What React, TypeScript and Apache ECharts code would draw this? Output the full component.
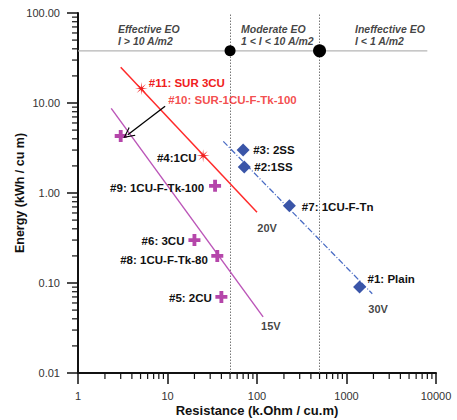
import React, { useEffect, useRef } from "react";
import * as echarts from "echarts";

// ---- data (resistance kOhm/cu.m, energy kWh/cu m) ----
const redNames = ["#11: SUR 3CU", "#4:1CU"];
const redR = [5.1, 25];
const redE = [14.5, 2.6];

const purpleNames = ["#10", "#9: 1CU-F-Tk-100", "#6: 3CU", "#8: 1CU-F-Tk-80", "#5: 2CU"];
const purpleR = [3.0, 34, 20, 36, 40];
const purpleE = [4.3, 1.2, 0.3, 0.2, 0.07];

const blueNames = ["#3: 2SS", "#2:1SS", "#7: 1CU-F-Tn", "#1: Plain"];
const blueR = [70, 72, 230, 1400];
const blueE = [3.0, 1.95, 0.72, 0.09];

// trend lines
const line20R = [3.0, 100];
const line20E = [25, 0.61];
const line15R = [2.35, 117];
const line15E = [8.7, 0.042];
const line30R = [42, 1940];
const line30E = [3.75, 0.076];

// thresholds
const thresholdR = [50, 500];
const thresholdE = 38;
const thresholdLineR = [1, 8000];

// annotations
const annoTexts = ["#10: SUR-1CU-F-Tk-100", "20V", "15V", "30V"];
const annoR = [10.2, 100.7, 111, 1753];
const annoE = [10.7, 0.41, 0.0334, 0.052];

const regionTexts = ["Effective EO\nI > 10 A/m2", "Moderate EO\n1 < I < 10 A/m2", "Ineffective EO\nI < 1 A/m2"];
const regionR = [2.8, 66.3, 1245];
const regionE = [57, 57, 57];

const arrowFrom = [9.4, 9.2];
const arrowTo = [3.6, 4.45];

const xTickLabels = ["1", "10", "100", "1000", "10000"];
const decadesX = [1, 10, 100, 1000];
const decadesY = [0.01, 0.1, 1, 10];

// ---- label placement / colours (separate from data) ----
const RED = "#f02020";
const BLACK = "#111";
const redPlace: any[] = [
  { position: "right", offset: [0, -5], distance: 1, color: RED },
  { position: "left", offset: [0, 2], distance: 0, color: BLACK },
];
const purplePlace: any[] = [
  null,
  { position: "left", offset: [0, 2], distance: 5, color: BLACK },
  { position: "left", offset: [0, 1], distance: 4, color: BLACK },
  { position: "left", offset: [0, 4], distance: 3.5, color: BLACK },
  { position: "left", offset: [0, 1], distance: 3.5, color: BLACK },
];
const bluePlace: any[] = [
  { position: "right", offset: [0, 0], distance: 3.5, color: BLACK },
  { position: "right", offset: [0, 0], distance: 3.5, color: BLACK },
  { position: "right", offset: [0, 1], distance: 6, color: BLACK },
  { position: "right", offset: [0, -8], distance: 1.5, color: BLACK },
];

const FONT = "'Liberation Sans', Arial, sans-serif";

function starPath(n: number, inner: number): string {
  const pts: string[] = [];
  for (let i = 0; i < n * 2; i++) {
    const a = (Math.PI * i) / n - Math.PI / 2;
    const r = i % 2 === 0 ? 10 : 10 * inner;
    pts.push(`${(10 + r * Math.cos(a)).toFixed(2)},${(10 + r * Math.sin(a)).toFixed(2)}`);
  }
  return "path://M" + pts.join("L") + "Z";
}
const STAR = starPath(8, 0.22);
const PLUS = "path://M3.4,0H6.6V3.4H10V6.6H6.6V10H3.4V6.6H0V3.4H3.4Z";
const CHEVRON = "path://M0,10L5,0L10,10L8.9,10L5,2.2L1.1,10Z";

function pointSeries(names: string[], rs: number[], es: number[], place: any[], symbol: string, size: number, color: string) {
  return {
    type: "scatter",
    symbol,
    symbolSize: size,
    itemStyle: { color, opacity: 1 },
    z: 5,
    data: names.map((n, i) => {
      const p = place[i];
      return {
        name: n,
        value: [rs[i], es[i]],
        label: p
          ? {
              show: true,
              formatter: "{b}",
              position: p.position,
              offset: p.offset,
              distance: p.distance,
              color: p.color,
              fontWeight: "bold",
              fontSize: 11.5,
              fontFamily: FONT,
            }
          : { show: false },
      };
    }),
  };
}

function trend(rs: number[], es: number[], color: string, width: number, type: any) {
  return {
    type: "line",
    symbol: "none",
    silent: true,
    z: 3,
    lineStyle: { color, width, type },
    data: rs.map((r, i) => [r, es[i]]),
  };
}

export default function App() {
  const ref = useRef<HTMLDivElement>(null);
  useEffect(() => {
    if (!ref.current) return;
    const chart = echarts.init(ref.current, null, { renderer: "svg" });

    const minorData: number[][] = [];
    decadesX.forEach((d) => {
      for (let m = 2; m <= 9; m++) minorData.push([d * m, 0.01, 0]);
    });
    decadesY.forEach((d) => {
      for (let m = 2; m <= 9; m++) minorData.push([1, d * m, 1]);
    });

    const option: any = {
      animation: false,
      grid: { left: 78, right: 21, top: 13, bottom: 47, containLabel: false, outerBoundsMode: "none" },
      xAxis: {
        type: "log",
        logBase: 10,
        min: 1,
        max: 10000,
        name: "Resistance (k.Ohm / cu.m)",
        nameLocation: "middle",
        nameGap: 31,
        nameMoveOverlap: false,
        nameTextStyle: { fontWeight: "bold", fontSize: 13, color: "#111", fontFamily: FONT },
        axisLine: { lineStyle: { color: "#111", width: 2 } },
        axisTick: { length: 11, lineStyle: { color: "#111", width: 1.5 } },
        axisLabel: {
          margin: 17,
          fontSize: 11,
          color: "#333",
          fontFamily: FONT,
          formatter: (v: number) => xTickLabels[Math.round(Math.log10(v))] ?? String(v),
        },
        splitLine: { show: false },
      },
      yAxis: {
        type: "log",
        logBase: 10,
        min: 0.01,
        max: 100,
        name: "Energy (kWh / cu m)",
        nameLocation: "middle",
        nameGap: 52,
        nameMoveOverlap: false,
        nameTextStyle: { fontWeight: "bold", fontSize: 12.5, color: "#111", fontFamily: FONT },
        axisLine: { lineStyle: { color: "#111", width: 2 } },
        axisTick: { length: 11, lineStyle: { color: "#111", width: 1.5 } },
        axisLabel: {
          margin: 18,
          fontSize: 11,
          color: "#333",
          fontFamily: FONT,
          formatter: (v: number) => v.toFixed(2),
        },
        splitLine: { show: false },
      },
      series: [
        {
          type: "custom",
          silent: true,
          clip: false,
          z: 10,
          encode: { x: 0, y: 1 },
          data: minorData,
          renderItem: (params: any, api: any) => {
            const p = api.coord([api.value(0), api.value(1)]);
            const k = api.value(2);
            const shape =
              k === 0
                ? { x1: p[0], y1: p[1], x2: p[0], y2: p[1] + 6 }
                : { x1: p[0] - 6, y1: p[1], x2: p[0], y2: p[1] };
            return { type: "line", shape, style: { stroke: "#111", lineWidth: 1.2 } };
          },
        },
        // vertical threshold lines
        {
          type: "line",
          data: [],
          silent: true,
          z: 1,
          markLine: {
            silent: true,
            symbol: "none",
            z: 1,
            label: { show: false },
            lineStyle: { color: "#777", width: 1, type: [1.5, 1.5] },
            data: thresholdR.map((r) => ({ xAxis: r })),
          },
        },
        // horizontal threshold line
        {
          type: "line",
          symbol: "none",
          silent: true,
          z: 1,
          lineStyle: { color: "#b5b5b5", width: 1.2 },
          data: thresholdLineR.map((r) => [r, thresholdE]),
        },
        {
          type: "scatter",
          silent: true,
          symbol: "circle",
          z: 8,
          itemStyle: { color: "#000", opacity: 1 },
          data: thresholdR.map((r, i) => ({ value: [r, thresholdE], symbolSize: i === 0 ? 11 : 13 })),
        },
        trend(line20R, line20E, "#ff2a2a", 1.5, "solid"),
        trend(line15R, line15E, "#bb55b8", 1.4, "solid"),
        trend(line30R, line30E, "#4a6cc4", 1.3, [6, 2, 1, 2]),
        pointSeries(redNames, redR, redE, redPlace, STAR, 13, RED),
        pointSeries(purpleNames, purpleR, purpleE, purplePlace, PLUS, 12, "#b546aa"),
        pointSeries(blueNames, blueR, blueE, bluePlace, "diamond", 13, "#3a55a8"),
        // arrow
        {
          type: "lines",
          coordinateSystem: "cartesian2d",
          silent: true,
          z: 6,
          symbol: ["none", CHEVRON],
          symbolSize: 11,
          lineStyle: { color: "#000", width: 1.3, opacity: 1 },
          data: [{ coords: [arrowFrom, arrowTo] }],
        },
        // annotations
        {
          type: "scatter",
          symbolSize: 0,
          silent: true,
          data: annoTexts.map((t, i) => ({
            name: t,
            value: [annoR[i], annoE[i]],
            label: {
              show: true,
              formatter: "{b}",
              position: "right",
              distance: 0,
              color: i === 0 ? RED : BLACK,
              fontWeight: "bold",
              fontSize: i === 0 ? 11.5 : 11,
              fontFamily: FONT,
            },
          })),
        },
        {
          type: "scatter",
          symbolSize: 0,
          silent: true,
          data: regionTexts.map((t, i) => ({
            name: t,
            value: [regionR[i], regionE[i]],
            label: {
              show: true,
              formatter: "{b}",
              position: "right",
              distance: 0,
              color: "#111",
              fontWeight: "bold",
              fontStyle: "italic",
              fontSize: 10.5,
              lineHeight: 12,
              align: "left",
              fontFamily: FONT,
            },
          })),
        },
      ],
    };
    chart.setOption(option);
    return () => chart.dispose();
  }, []);
  return (
    <div
      ref={ref}
      style={{ position: "fixed", left: 0, top: 0, width: 457, height: 420, background: "#fff" }}
    />
  );
}
